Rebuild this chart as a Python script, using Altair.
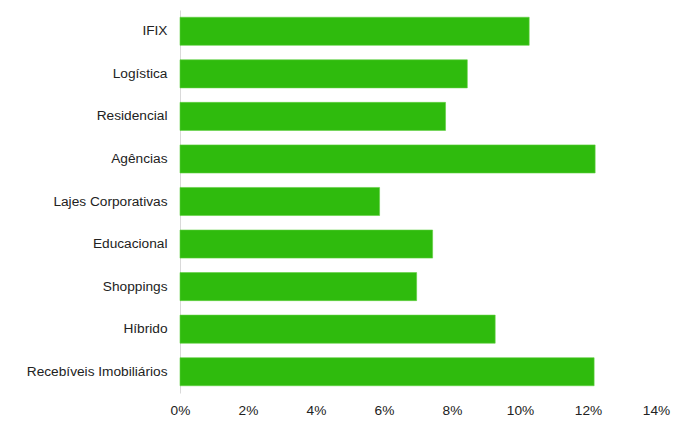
import altair as alt
import pandas as pd

categories = ["IFIX", "Logística", "Residencial", "Agências", "Lajes Corporativas",
              "Educacional", "Shoppings", "Híbrido", "Recebíveis Imobiliários"]
values = [0.1027, 0.0845, 0.0781, 0.1221, 0.0587, 0.0743, 0.0696, 0.0927, 0.1218]

df = pd.DataFrame({"categoria": categories, "valor": values})

chart = alt.Chart(df).mark_bar(color="#2fbb0d", stroke="#5fd040", strokeWidth=0.6).encode(
    y=alt.Y("categoria:N", sort=categories, title=None,
            scale=alt.Scale(paddingInner=0.34, paddingOuter=0.17),
            axis=alt.Axis(domain=True, domainColor="#d9d9d9", ticks=False,
                          labelFont="Liberation Sans", labelFontSize=13.7,
                          labelColor="#222222", labelPadding=13, labelLimit=300)),
    x=alt.X("valor:Q", title=None,
            scale=alt.Scale(domain=[0, 0.14], nice=False),
            axis=alt.Axis(format=".0%", values=[0, 0.02, 0.04, 0.06, 0.08, 0.10, 0.12, 0.14],
                          grid=False, domain=False, ticks=False, labelFlush=False,
                          labelFont="Liberation Sans", labelFontSize=13.7,
                          labelColor="#222222", labelPadding=10)),
).properties(
    width=476, height=383,
    autosize=alt.AutoSizeParams(type="none"),
    padding={"left": 172, "top": 2, "right": 17, "bottom": 30},
).configure_view(stroke=None)

chart.save("out.html", embed_options={"renderer": "svg", "actions": False})
